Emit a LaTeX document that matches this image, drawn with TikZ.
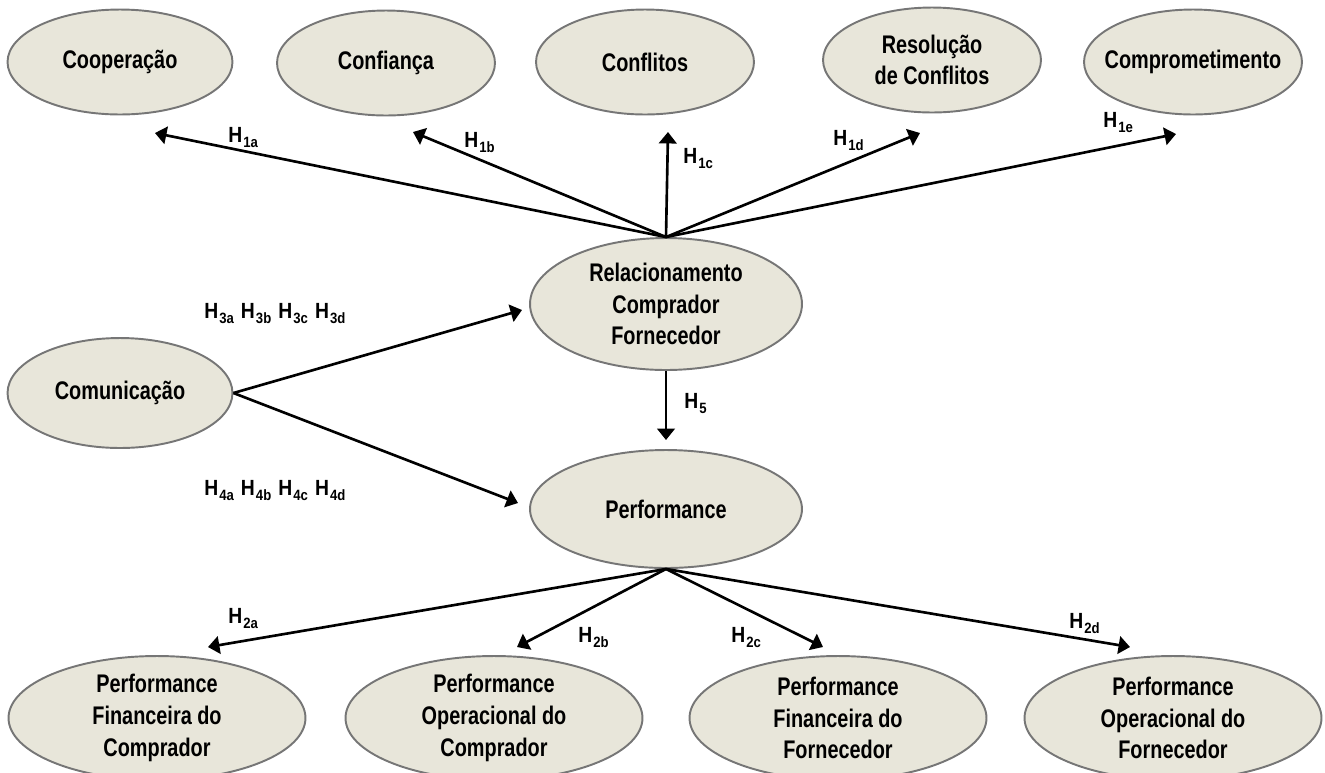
\documentclass[tikz,border=0pt]{standalone}
\usepackage{fontspec}
\setmainfont{Liberation Sans}[FakeStretch=0.78]
\newfontfamily\hipfont{Liberation Sans}[FakeStretch=0.88]
\usetikzlibrary{shapes.geometric, arrows.meta}

\definecolor{fundo}{RGB}{232,230,218}
\definecolor{borda}{RGB}{118,118,118}
\newcommand{\hip}[1]{H\kern0.6pt\raisebox{-3.4pt}{\fontsize{8.5}{8.5}\selectfont #1}}

\begin{document}
\begin{tikzpicture}[x=0.02cm, y=-0.02cm, line width=1.5pt,
    >={Triangle[length=6.5pt, width=10pt]},
    construto/.style={ellipse, draw=borda, fill=fundo, line width=1.1pt,
      inner xsep=-0.6cm, inner ysep=-0.3cm, align=center,
      font=\bfseries\fontsize{14.5}{18}\selectfont,
      minimum width=4.36cm, minimum height=2.1cm},
    hyp/.style={anchor=base west, inner sep=0pt,
      font=\hipfont\bfseries\fontsize{12.5}{12.5}\selectfont}]
  \clip (0,0) rectangle (1325,772);

  % constructs
  \node[construto, minimum width=4.5cm] (coop) at (120,62) {Cooperação};
  \node[construto] (conf) at (386,63) {Confiança};
  \node[construto] (confl) at (645,62) {Conflitos};
  \node[construto] (resol) at (932,60) {Resolução\\de Conflitos};
  \node[construto] (comp) at (1193,62) {Comprometimento};
  \node[construto, minimum width=5.44cm, minimum height=2.64cm] (rel) at (666,304)
    {Relacionamento\\Comprador\\Fornecedor};
  \node[construto, minimum width=4.5cm, minimum height=2.2cm] (comun) at (120,393) {Comunicação};
  \node[construto, minimum width=5.44cm, minimum height=2.36cm] (perf) at (666,509) {Performance};
  \node[construto, minimum width=5.94cm, minimum height=2.48cm] (pfc) at (157,718)
    {Performance\\Financeira do\\Comprador};
  \node[construto, minimum width=5.94cm, minimum height=2.48cm] (poc) at (494,718)
    {Performance\\Operacional do\\Comprador};
  \node[construto, minimum width=5.94cm, minimum height=2.48cm] (pff) at (838,718)
    {Performance\\Financeira do\\Fornecedor};
  \node[construto, minimum width=5.94cm, minimum height=2.48cm] (pof) at (1173,718)
    {Performance\\Operacional do\\Fornecedor};

  % arrow ends
  \coordinate (t1a) at (155,133);
  \coordinate (t1b) at (413,132);
  \coordinate (t1c) at (668,132);
  \coordinate (t1d) at (920,133);
  \coordinate (t1e) at (1176,134);
  \coordinate (t3) at (522,310);
  \coordinate (t4) at (518,503);
  \coordinate (t5) at (666,440);
  \coordinate (t2a) at (208,647);
  \coordinate (t2b) at (517,647);
  \coordinate (t2c) at (823,647);
  \coordinate (t2d) at (1130,647);

  \path[->]
    (rel.north) edge (t1a)
                edge (t1b)
                edge (t1c)
                edge (t1d)
                edge (t1e)
    (rel.south) edge (t5)
    (comun.east) edge (t3)
                 edge (t4)
    (perf.south) edge (t2a)
                 edge (t2b)
                 edge (t2c)
                 edge (t2d);

  % hypotheses
  \node[hyp] (h1a) at (227,142) {\hip{1a}};
  \node[hyp] (h1b) at (463,147) {\hip{1b}};
  \node[hyp] (h1c) at (682,163) {\hip{1c}};
  \node[hyp] (h1d) at (832,145) {\hip{1d}};
  \node[hyp] (h1e) at (1102,127) {\hip{1e}};
  \node[hyp] (h3) at (203,318) {\hip{3a}\hspace{4pt}\hip{3b}\hspace{4pt}\hip{3c}\hspace{4pt}\hip{3d}};
  \node[hyp] (h4) at (203,495) {\hip{4a}\hspace{4pt}\hip{4b}\hspace{4pt}\hip{4c}\hspace{4pt}\hip{4d}};
  \node[hyp] (h5) at (683,408) {\hip{5}};
  \node[hyp] (h2a) at (227,623) {\hip{2a}};
  \node[hyp] (h2b) at (577,642) {\hip{2b}};
  \node[hyp] (h2c) at (730,642) {\hip{2c}};
  \node[hyp] (h2d) at (1068,628) {\hip{2d}};
\end{tikzpicture}
\end{document}
